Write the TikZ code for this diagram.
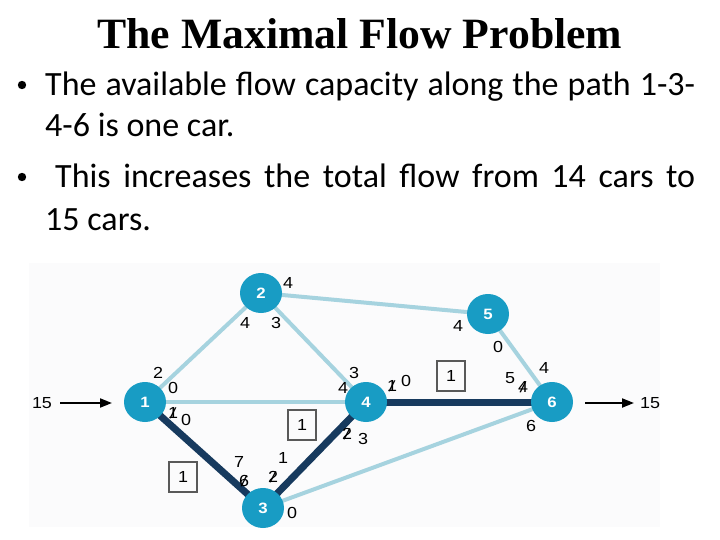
\documentclass[tikz,border=0pt]{standalone}
\usepackage{fontspec}
\usetikzlibrary{arrows.meta,shapes.geometric}
\setmainfont{Liberation Sans}
\newfontfamily\titlefont{Liberation Serif}
\newfontfamily\bodyfont{Carlito}
\newfontfamily\labfont[FakeStretch=1.12]{Liberation Sans}
\definecolor{nodeblue}{RGB}{24,156,196}
\definecolor{lightedge}{RGB}{166,211,223}
\definecolor{darkedge}{RGB}{23,58,94}
\definecolor{panel}{RGB}{251,251,252}
\newcommand{\strk}[1]{\ooalign{#1\cr\hidewidth\rotatebox{-10}{/}\hidewidth\cr}}
\tikzset{
  netnode/.style={ellipse, fill=nodeblue, minimum width=42pt, minimum height=40pt, inner sep=0pt,
    text=white, font=\labfont\bfseries\fontsize{15}{15}\selectfont},
  lightline/.style={draw=lightedge, line width=4pt},
  darkline/.style={draw=darkedge, line width=7pt},
  lab/.style={inner sep=0pt, font=\labfont\fontsize{16}{16}\selectfont},
  flowbox/.style={draw=black!65, line width=1.1pt, minimum width=28pt, minimum height=30pt,
    inner sep=0pt, font=\labfont\fontsize{16}{16}\selectfont},
  inarrow/.style={line width=2pt, -{Triangle[length=12pt,width=9pt]}},
  bodyline/.style={anchor=base west, inner sep=0pt, font=\bodyfont\fontsize{34}{34}\selectfont},
}
\begin{document}
\begin{tikzpicture}[x=1pt,y=-1pt]
\useasboundingbox (0,0) rectangle (720,540);
\fill[white] (0,0) rectangle (720,540);
% title
\node[anchor=base west, inner sep=0pt] (title) at (97,49)
  {\resizebox{525pt}{30pt}{\titlefont\bfseries The Maximal Flow Problem}};
% bullets
\fill (22,85) circle (4.2pt);
\fill (22,177) circle (4.2pt);
\node[bodyline] (b1) at (45,96) {\makebox[650pt][s]{The available flow capacity along the path 1-3-}};
\node[bodyline] (b2) at (45,137) {4-6 is one car.};
\node[bodyline] (b3) at (55,188) {\makebox[640pt][s]{This increases the total flow from 14 cars to}};
\node[bodyline] (b4) at (45,230) {15 cars.};
% panel
\fill[panel] (29,263) rectangle (660,527);
% node positions
\coordinate (p1) at (145,402);
\coordinate (p2) at (261,293);
\coordinate (p3) at (263,508);
\coordinate (p4) at (366,402);
\coordinate (p5) at (488,314);
\coordinate (p6) at (552,402);
% edges
\draw[lightline] (p1) -- (p2);
\draw[lightline] (p1) -- (p4);
\draw[lightline] (p2) -- (p4);
\draw[lightline] (p2) -- (p5);
\draw[lightline] (p3) -- (p6);
\draw[lightline] (p5) -- (p6);
\draw[darkline] (p1) -- (p3);
\draw[darkline] (p3) -- (p4);
\draw[darkline] (p4) -- (p6);
% nodes
\node[netnode] (n1) at (p1) {1};
\node[netnode] (n2) at (p2) {2};
\node[netnode] (n3) at (p3) {3};
\node[netnode] (n4) at (p4) {4};
\node[netnode] (n5) at (p5) {5};
\node[netnode] (n6) at (p6) {6};
% source / sink arrows
\node[lab] (s15) at (42,403) {15};
\node[lab] (t15) at (650,403) {15};
\coordinate (sa) at (60,403);
\coordinate (sb) at (112,403);
\coordinate (ta) at (585,403);
\coordinate (tb) at (634,403);
\draw[inarrow] (sa) -- (sb);
\draw[inarrow] (ta) -- (tb);
% flow boxes
\node[flowbox] (f1) at (183,477) {1};
\node[flowbox] (f2) at (302,425) {1};
\node[flowbox] (f3) at (451,376) {1};
% capacity labels
\node[lab] at (158,373) {2};
\node[lab] at (173,388) {0};
\node[lab] at (173,414) {\strk{1}};
\node[lab] at (186,420) {0};
\node[lab] at (245,323) {4};
\node[lab] at (276,323) {3};
\node[lab] at (288,283) {4};
\node[lab] at (354,373) {3};
\node[lab] at (343,388) {4};
\node[lab] at (392,387) {\strk{1}};
\node[lab] at (406,381) {0};
\node[lab] at (458,326) {4};
\node[lab] at (498,347) {0};
\node[lab] at (544,368) {4};
\node[lab] at (510,378) {5};
\node[lab] at (523,388) {\strk{4}};
\node[lab] at (531,426) {6};
\node[lab] at (239,462) {7};
\node[lab] at (244,481) {\strk{6}};
\node[lab] at (273,477) {\strk{2}};
\node[lab] at (283,458) {1};
\node[lab] at (347,434) {\strk{2}};
\node[lab] at (363,439) {3};
\node[lab] at (292,513) {0};
\end{tikzpicture}
\end{document}
